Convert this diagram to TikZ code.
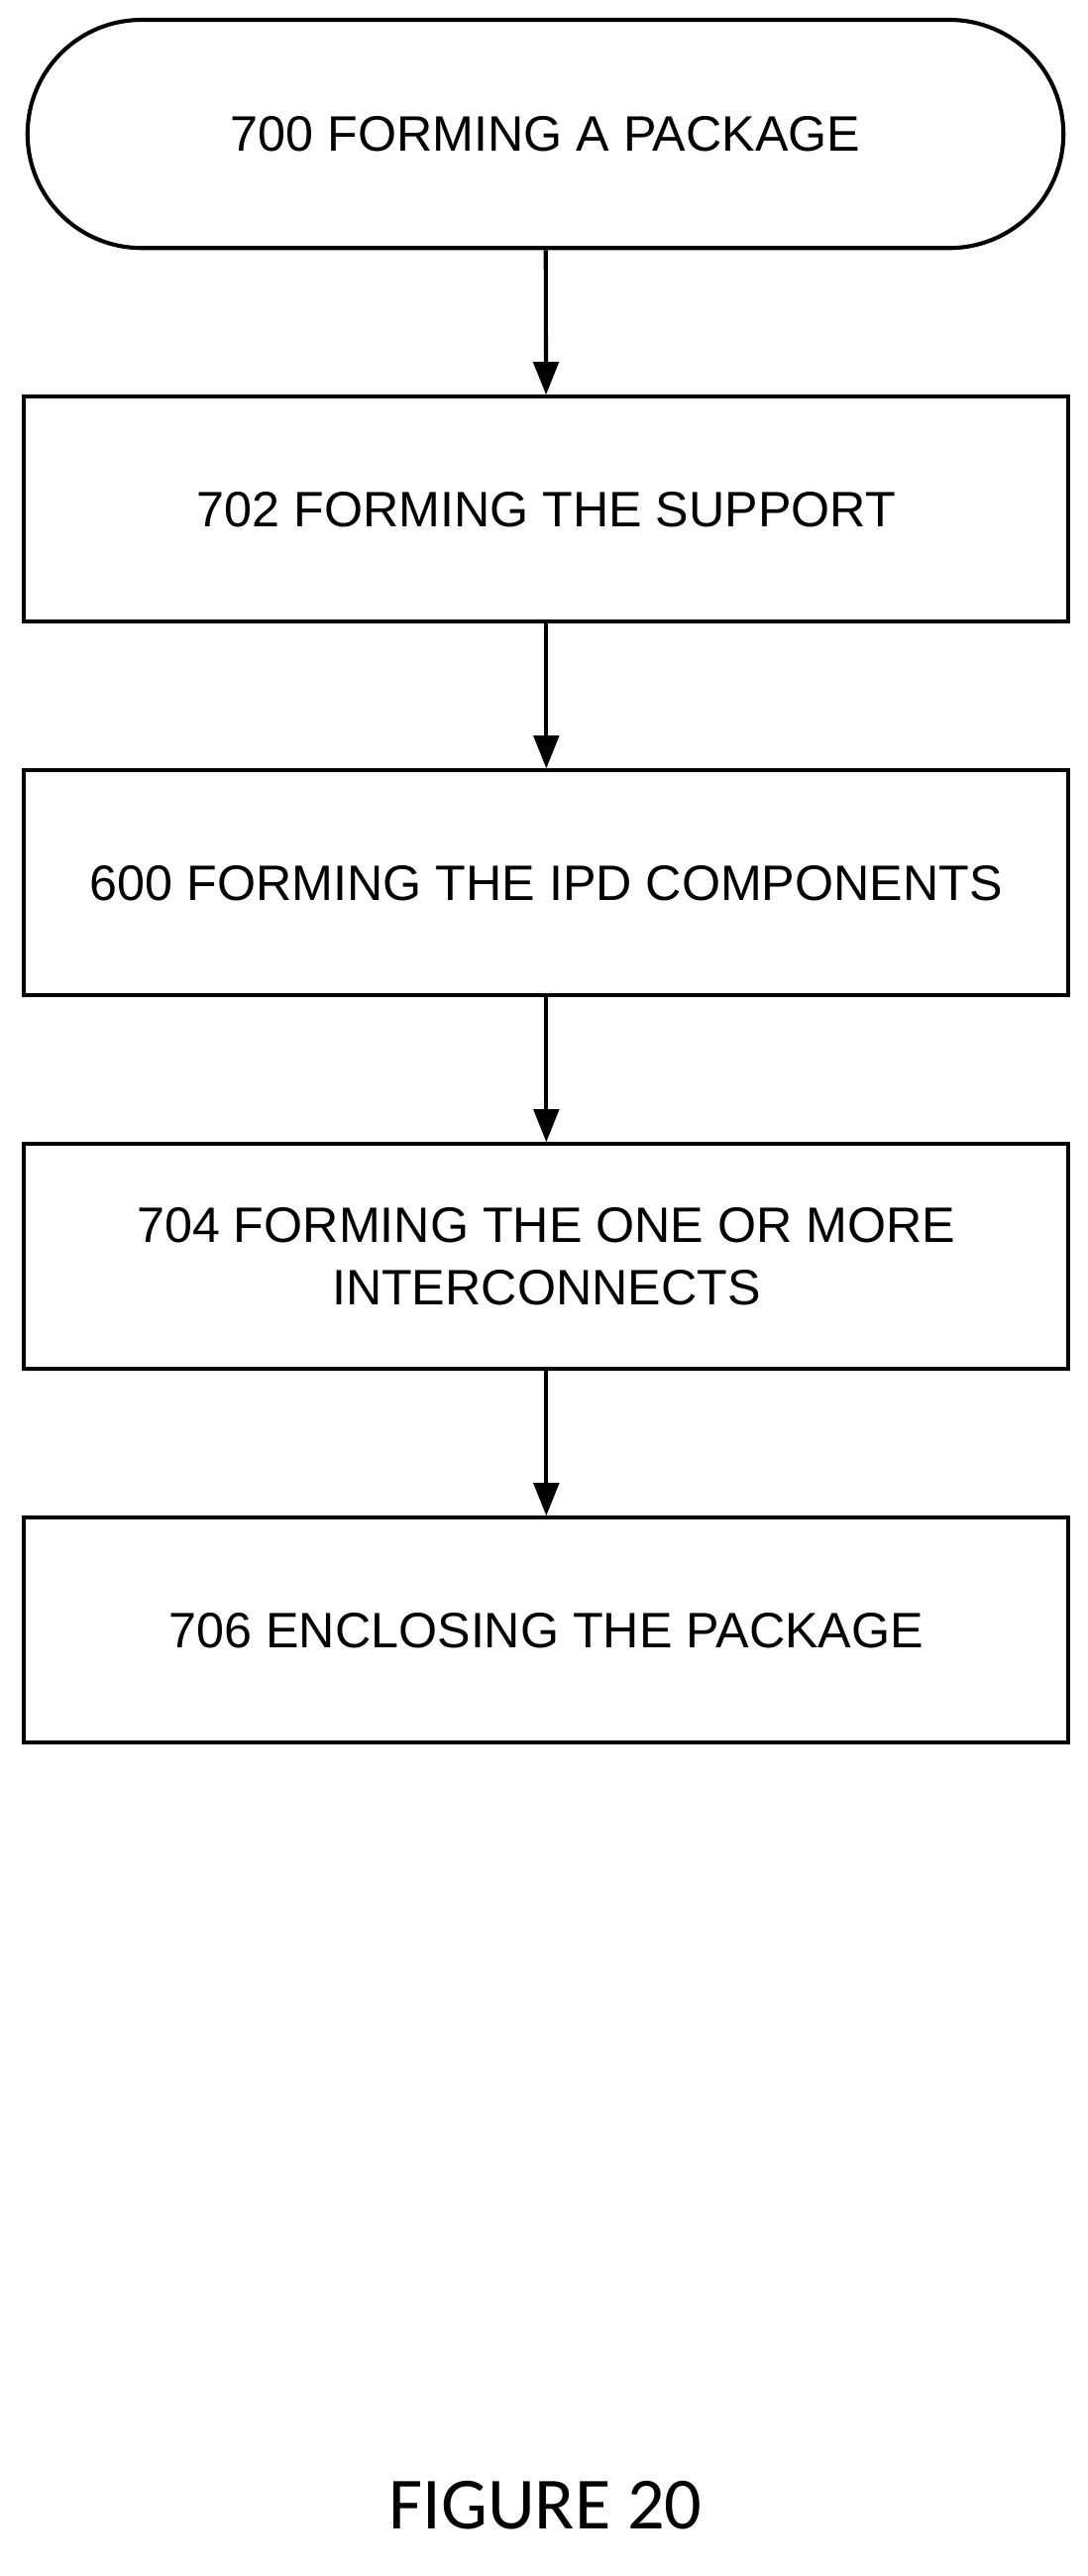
\documentclass[tikz,border=0pt]{standalone}
\usepackage{fontspec}
\setmainfont{Liberation Sans}
\newfontfamily\figfont{Carlito}
\usetikzlibrary{positioning}
\usetikzlibrary{arrows.meta}
\tikzset{step box/.style={draw,line width=2.1pt,minimum width=18.95cm,minimum height=4.08cm,
                          align=center,font=\fontsize{25.7}{32}\selectfont}}
\tikzset{start box/.style={step box,minimum width=18.8cm,minimum height=4.14cm,rounded corners=2.07cm}}
\tikzset{flow/.style={draw,line width=2.1pt,-{Triangle[length=17pt,width=13pt]}}}
\begin{document}
\begin{tikzpicture}[x=0.03cm,y=-0.03cm]
      \useasboundingbox (0,0) rectangle (658,1558);

      % steps
      \node [start box] (S700) at (330,81) {700 FORMING A PACKAGE};
      \node [step box] (S702) at (330.5,308) {702 FORMING THE SUPPORT};
      \node [step box] (S600) at (330.5,534) {600 FORMING THE IPD COMPONENTS};
      \node [step box] (S704) at (330.5,760) {704 FORMING THE ONE OR MORE\\INTERCONNECTS};
      \node [step box] (S706) at (330.5,986) {706 ENCLOSING THE PACKAGE};

      % arrows
      \foreach \a/\b in {S700/S702,S702/S600,S600/S704,S704/S706}
      {
      \path [flow] (\a) -- (\b);
      }

      \node [font=\figfont\fontsize{38}{44}\selectfont] (fig) at (330,1515) {FIGURE 20};
\end{tikzpicture}
\end{document}
